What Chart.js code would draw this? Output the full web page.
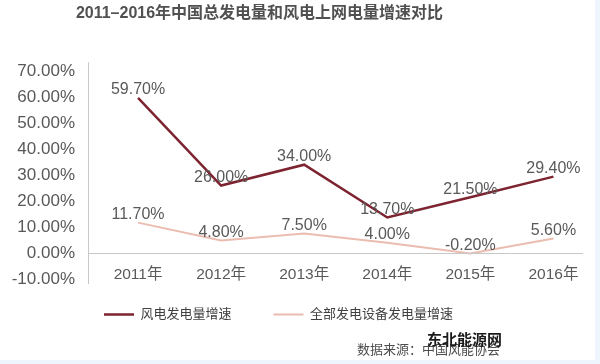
<!DOCTYPE html>
<html><head><meta charset="utf-8">
<script src="https://cdn.jsdelivr.net/npm/chart.js@4/dist/chart.umd.min.js"></script>
<style>
html,body{margin:0;padding:0;background:#eef5fc;}
#wrap{position:absolute;left:0;top:0;width:595px;height:360px;background:#fff;}
</style></head>
<body><div id="wrap"><canvas id="c" width="595" height="360"></canvas></div>
<script>
const categories = ['2011年','2012年','2013年','2014年','2015年','2016年'];
const windGrowth = [59.7, 26.0, 34.0, 13.7, 21.5, 29.4];
const allGrowth = [11.7, 4.8, 7.5, 4.0, -0.2, 5.6];
const seriesNames = ['风电发电量增速','全部发电设备发电量增速'];
const yTicks = [-10, 0, 10, 20, 30, 40, 50, 60, 70];
const titleText = '2011–2016年中国总发电量和风电上网电量增速对比';
const sourceText = '数据来源：中国风能协会';
const watermarkText = '东北能源网';

const FONT = '"Liberation Sans", Arial, "Noto Sans CJK SC", sans-serif';
const GRAY = '#595959';
const AXIS_X = 88, AXIS_RIGHT = 583;

const extras = {
  id: 'extras',
  afterLayout(chart) {
    const lg = chart.legend;
    if (lg) { lg.left -= 19; lg.right -= 19; lg.top -= 13; lg.bottom -= 13; }
    const tb = chart.titleBlock;
    if (tb) { tb.left -= 38; tb.right -= 38; }
  },
  afterDatasetsDraw(chart) {
    const ctx = chart.ctx;
    const y = chart.scales.y;
    ctx.save();
    ctx.strokeStyle = '#c8c8c8'; ctx.lineWidth = 1;
    // y axis line
    ctx.beginPath();
    ctx.moveTo(AXIS_X + 0.5, y.top - 9);
    ctx.lineTo(AXIS_X + 0.5, y.bottom + 5);
    ctx.stroke();
    // x axis line at zero
    const y0 = Math.round(y.getPixelForValue(0)) + 0.5;
    ctx.beginPath();
    ctx.moveTo(AXIS_X, y0);
    ctx.lineTo(AXIS_RIGHT, y0);
    ctx.stroke();
    // data labels
    ctx.font = '16px ' + FONT;
    ctx.fillStyle = GRAY;
    ctx.textAlign = 'center';
    ctx.textBaseline = 'middle';
    chart.data.datasets.forEach((ds, di) => {
      const meta = chart.getDatasetMeta(di);
      meta.data.forEach((pt, i) => {
        ctx.fillText(ds.data[i].toFixed(2) + '%', pt.x, pt.y - 8);
      });
    });
    // source & watermark
    ctx.font = '13px ' + FONT;
    ctx.fillStyle = '#4d4d4d';
    ctx.textAlign = 'left';
    ctx.fillText(sourceText, 357, 350);
    ctx.font = 'bold 15px ' + FONT;
    ctx.fillStyle = '#1a1a1a';
    ctx.fillText(watermarkText, 427, 341);
    ctx.restore();
  }
};

new Chart(document.getElementById('c'), {
  type: 'line',
  data: {
    labels: categories,
    datasets: [
      { label: seriesNames[0], data: windGrowth, borderColor: '#7d2430', backgroundColor: '#7d2430', borderWidth: 2.5, pointRadius: 0, tension: 0 },
      { label: seriesNames[1], data: allGrowth, borderColor: '#ebbcb0', backgroundColor: '#ebbcb0', borderWidth: 2, pointRadius: 0, tension: 0 }
    ]
  },
  options: {
    responsive: false,
    animation: false,
    layout: { padding: { left: 0, right: 0, top: 0, bottom: 16 } },
    plugins: {
      title: { display: true, text: titleText, color: '#505050', font: { family: FONT, size: 16, weight: 'bold' }, padding: { top: 3.5, bottom: 48.5 } },
      legend: {
        position: 'bottom',
        labels: { color: '#404040', font: { family: FONT, size: 13 }, boxWidth: 30, boxHeight: 0, padding: 42 }
      },
      tooltip: { enabled: false }
    },
    scales: {
      x: {
        type: 'category',
        position: { y: 0 },
        offset: true,
        afterFit(s) { s.height = 0; },
        grid: { display: false, drawTicks: false },
        border: { display: false },
        ticks: { color: GRAY, font: { family: FONT, size: 15.5 }, padding: 12, maxRotation: 0 }
      },
      y: {
        min: -10, max: 70,
        afterBuildTicks(s) { s.ticks = yTicks.map(v => ({ value: v })); },
        afterFit(s) { s.width = 96.5; },
        grid: { display: false, drawTicks: false },
        border: { display: false },
        ticks: { color: GRAY, font: { family: FONT, size: 17 }, padding: 21.5, callback: v => v.toFixed(2) + '%' }
      }
    }
  },
  plugins: [extras]
});
</script></body></html>
